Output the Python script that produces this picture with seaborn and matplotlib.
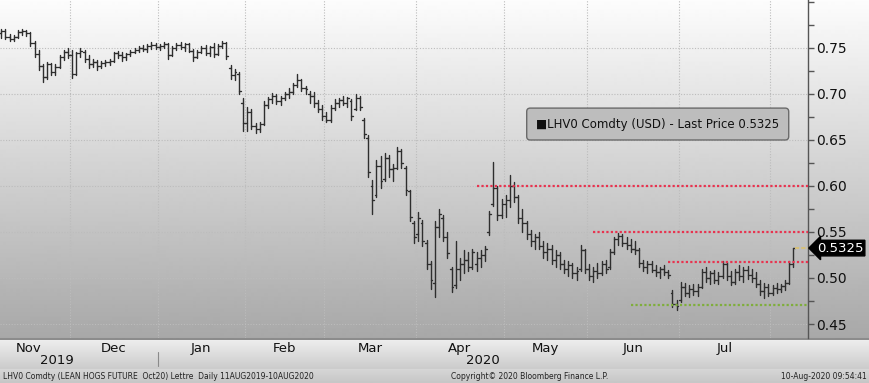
import numpy as np
import pandas as pd
import matplotlib
matplotlib.use('Agg')
import matplotlib.pyplot as plt
import matplotlib.transforms as mtransforms
import seaborn as sns

# trading calendar (CME lean hogs), chart window
HOLIDAYS = ['2019-11-28', '2019-12-25', '2020-01-01', '2020-01-20',
            '2020-02-17', '2020-04-10', '2020-05-25', '2020-07-03']
CAL_START = '2019-11-01'
FIRST_DAY = '2019-11-06'
LAST_DAY = '2020-08-10'

# daily OHLC, one row of numbers per month (USD / lb)
OPENS = [
    .766, .768, .762, .760, .762, .767, .768, .766, .755, .743, .730, .718, .732, .724, .729, .740, .745,
    .742, .722, .744, .746, .738, .732, .735, .730, .734, .735, .736, .744, .742, .740, .743, .746, .748, .750, .749, .752, .753,
    .751, .752, .754, .742, .750, .753, .751, .754, .747, .740, .746, .750, .744, .751, .743, .752, .755, .728, .720, .722, .690,
    .668, .680, .665, .662, .667, .688, .694, .698, .692, .696, .700, .702, .710, .715, .706, .700, .698, .690, .684,
    .676, .672, .685, .690, .693, .690, .692, .684, .695, .672, .652, .600, .590, .622, .608, .630, .618, .620, .638, .620, .594, .560,
    .548, .560, .538, .515, .495, .555, .565, .545, .510, .492, .510, .515, .520, .512, .515, .522, .525, .550, .580, .598, .568,
    .580, .585, .600, .588, .565, .560, .548, .540, .545, .535, .528, .532, .520, .525, .515, .510, .514, .505, .510, .530,
    .510, .502, .508, .505, .515, .512, .528, .542, .546, .538, .536, .532, .530, .516, .512, .515, .509, .506, .510, .506, .484, .472,
    .476, .490, .484, .488, .486, .490, .506, .500, .505, .498, .502, .515, .502, .496, .506, .502, .509, .503, .500, .494, .486, .490,
    .484, .489, .488, .491, .495, .515,
]
HIGHS = [
    .771, .770, .765, .764, .769, .770, .769, .767, .757, .748, .733, .735, .734, .732, .742, .748, .750,
    .748, .746, .750, .748, .742, .738, .737, .736, .737, .738, .746, .747, .745, .744, .748, .750, .752, .753, .754, .756, .755,
    .754, .756, .755, .752, .755, .756, .755, .755, .749, .748, .752, .753, .752, .755, .754, .757, .756, .731, .727, .724, .695,
    .686, .684, .668, .670, .692, .697, .701, .700, .698, .702, .706, .712, .722, .716, .709, .703, .702, .693, .688,
    .680, .688, .694, .696, .698, .697, .694, .700, .698, .674, .655, .606, .628, .632, .636, .634, .624, .642, .640, .622, .596, .562,
    .572, .563, .541, .518, .562, .575, .568, .550, .512, .540, .522, .530, .528, .532, .528, .530, .535, .573, .626, .600, .586,
    .590, .612, .604, .590, .575, .562, .552, .548, .550, .540, .538, .536, .530, .528, .520, .518, .516, .512, .536, .532,
    .515, .512, .516, .518, .520, .532, .545, .549, .548, .545, .542, .540, .533, .520, .518, .518, .514, .512, .514, .509, .487, .476,
    .496, .495, .492, .494, .493, .510, .512, .508, .509, .506, .518, .517, .508, .510, .514, .512, .513, .510, .506, .498, .495, .494,
    .492, .495, .494, .498, .518, .5325,
]
LOWS = [
    .761, .760, .758, .757, .761, .764, .763, .752, .740, .726, .713, .716, .720, .721, .728, .737, .739,
    .717, .720, .740, .735, .728, .729, .726, .728, .730, .731, .735, .739, .736, .737, .741, .744, .745, .747, .746, .749, .749,
    .748, .750, .738, .741, .748, .749, .747, .745, .736, .739, .744, .742, .741, .740, .742, .750, .738, .716, .715, .700, .660,
    .660, .662, .658, .659, .666, .685, .690, .689, .688, .693, .695, .700, .708, .703, .700, .690, .686, .680, .672,
    .669, .670, .683, .686, .688, .686, .672, .683, .682, .652, .610, .570, .588, .598, .605, .610, .605, .618, .620, .590, .562, .538,
    .540, .535, .510, .488, .479, .545, .540, .522, .485, .489, .498, .505, .508, .510, .508, .512, .518, .547, .578, .563, .565,
    .566, .577, .583, .560, .550, .542, .535, .532, .532, .522, .520, .515, .512, .510, .505, .502, .500, .498, .508, .505,
    .498, .496, .500, .503, .505, .510, .526, .536, .535, .532, .528, .526, .512, .508, .505, .506, .502, .500, .503, .500, .468, .465,
    .474, .480, .479, .482, .480, .489, .496, .494, .495, .494, .500, .498, .492, .494, .498, .496, .499, .496, .490, .482, .478, .480,
    .482, .484, .485, .487, .494, .512,
]
CLOSES = [
    .768, .762, .760, .762, .767, .768, .766, .755, .743, .730, .718, .732, .724, .729, .740, .745, .742,
    .722, .744, .747, .738, .732, .735, .730, .734, .735, .736, .744, .742, .740, .743, .746, .748, .750, .749, .752, .753, .751,
    .752, .754, .742, .750, .753, .751, .754, .747, .740, .746, .750, .744, .751, .743, .752, .755, .741, .720, .724, .703, .668,
    .680, .665, .662, .667, .688, .694, .698, .692, .696, .700, .702, .710, .715, .706, .705, .698, .690, .684, .676,
    .672, .685, .690, .693, .690, .695, .676, .695, .686, .656, .615, .585, .622, .605, .630, .618, .620, .638, .625, .596, .566, .545,
    .565, .540, .515, .498, .555, .570, .545, .527, .490, .510, .515, .520, .512, .528, .522, .525, .532, .570, .598, .568, .580,
    .585, .600, .588, .565, .560, .548, .540, .545, .535, .528, .532, .520, .525, .515, .510, .514, .505, .508, .530, .510,
    .502, .508, .505, .515, .510, .528, .542, .546, .538, .536, .532, .530, .516, .512, .515, .509, .506, .510, .506, .503, .472, .470,
    .490, .484, .488, .486, .490, .506, .500, .505, .498, .502, .515, .502, .496, .506, .502, .509, .503, .500, .494, .486, .490, .484,
    .489, .488, .491, .495, .515, .5325,
]

MONTH_LABELS = ['Nov', 'Dec', 'Jan', 'Feb', 'Mar', 'Apr', 'May', 'Jun', 'Jul']

# drawn trend levels: (price, start date, colour)
LEVELS = [0.60, 0.55, 0.517, 0.471]
LEVEL_STARTS = ['2020-04-22', '2020-06-02', '2020-06-26', '2020-06-15']
LEVEL_COLORS = ['#e8334f', '#e8334f', '#e8334f', '#7fae3c']

FOOTER_LEFT = 'LHV0 Comdty (LEAN HOGS FUTURE  Oct20) Lettre  Daily 11AUG2019-10AUG2020'
FOOTER_MID = 'Copyright\u00a9 2020 Bloomberg Finance L.P.'
FOOTER_RIGHT = '10-Aug-2020 09:54:41'

BAR_COLOR = '#2e2e2e'
GRID_COLOR = '#bcbcbc'
TICK = 0.42

sns.set_style('white')
plt.rcParams['font.family'] = ['DejaVu Sans']

# trading-day positions
cal = pd.bdate_range(CAL_START, LAST_DAY, freq='C', holidays=HOLIDAYS)
cal_pos = pd.Series(np.arange(len(cal)) - cal.get_loc(pd.Timestamp(FIRST_DAY)), index=cal)
dates = cal[cal >= pd.Timestamp(FIRST_DAY)]
df = pd.DataFrame({'date': dates, 'open': OPENS, 'high': HIGHS,
                   'low': LOWS, 'close': CLOSES})
df['x'] = cal_pos.loc[dates].values
n = len(df)

hl = pd.DataFrame({'unit': np.repeat(np.arange(n), 2),
                   'x': np.repeat(df.x.values, 2),
                   'y': np.column_stack([df.low, df.high]).ravel()})
op = pd.DataFrame({'unit': np.repeat(np.arange(n) + n, 2),
                   'x': np.column_stack([df.x - TICK, df.x]).ravel(),
                   'y': np.repeat(df.open.values, 2)})
cl = pd.DataFrame({'unit': np.repeat(np.arange(n) + 2 * n, 2),
                   'x': np.column_stack([df.x, df.x + TICK]).ravel(),
                   'y': np.repeat(df.close.values, 2)})
segs = pd.concat([hl, op, cl], ignore_index=True)

# month boundaries / centres
month_first = cal_pos.groupby([cal.year, cal.month]).min().values - 0.5
month_last = cal_pos.groupby([cal.year, cal.month]).max().values + 0.5
centres = ((month_first + month_last) / 2)[:len(MONTH_LABELS)]

W, H = 869, 383
fig = plt.figure(figsize=(W / 100, H / 100), dpi=100)

# background gradient (plot area, date band, footer band)
grad = np.concatenate([
    np.linspace(0.99, 0.66, 338),
    np.full(2, 0.55),
    np.linspace(0.93, 0.80, 29),
    np.linspace(0.84, 0.78, 14),
])
bg = fig.add_axes([0, 0, 1, 1], zorder=0)
bg.imshow(grad[:, None], aspect='auto', cmap='gray', vmin=0, vmax=1,
          extent=[0, 1, 0, 1], interpolation='bilinear')
bg.axis('off')

ax = fig.add_axes([0, 1 - 338 / H, 808 / W, 338 / H], zorder=1)
ax.patch.set_alpha(0)

x_right = 193.5
ax.set_xlim(-0.3, x_right)
ax.set_ylim(0.4348, 0.802)

sns.lineplot(data=segs, x='x', y='y', units='unit', estimator=None,
             sort=False, color=BAR_COLOR, lw=1.0, ax=ax)

for lvl, start, col in zip(LEVELS, LEVEL_STARTS, LEVEL_COLORS):
    x0 = cal_pos.loc[pd.Timestamp(start)]
    ax.hlines(lvl, x0, x_right, colors=col, lw=1.6, linestyles=(0, (1, 1)), zorder=3)

last = df.close.iloc[-1]
ax.hlines(last, df.x.iloc[-1] + TICK, x_right, colors='#d6c07a', lw=1.5,
          linestyles=(0, (2, 1)), zorder=3)

# axes styling
for s in ['left', 'top', 'bottom']:
    ax.spines[s].set_visible(False)
ax.spines['right'].set_color('#555555')
ax.spines['right'].set_linewidth(1)

ax.yaxis.tick_right()
yt = np.round(np.arange(0.45, 0.751, 0.05), 2)
ax.set_yticks(yt)
ax.set_yticklabels([f'{v:.2f}' for v in yt])
ax.set_yticks([0.475, 0.525, 0.575, 0.625, 0.675, 0.725, 0.775, 0.80], minor=True)
ax.tick_params(axis='y', which='both', direction='out', length=4, width=1,
               color='#555555', labelsize=10, labelcolor='#111111', pad=2)

ax.set_xticks(centres)
ax.set_xticklabels(MONTH_LABELS)
ax.set_xticks(month_first[1:], minor=True)
ax.tick_params(axis='x', which='major', length=0, labelsize=9.5,
               labelcolor='#111111', pad=3)
ax.tick_params(axis='x', which='minor', length=3, color='#7a7a7a', direction='out')
ax.set_xlabel('')
ax.set_ylabel('')

ax.grid(axis='y', which='major', color=GRID_COLOR, ls=(0, (1, 1.5)), lw=0.8)
ax.grid(axis='x', which='minor', color=GRID_COLOR, ls=(0, (1, 1.5)), lw=0.8)
ax.set_axisbelow(True)

# year row
ax.text(0.0705, -0.068, '2019', transform=ax.transAxes, ha='center', va='center',
        fontsize=9.5, color='#111111')
ax.text(0.598, -0.068, '2020', transform=ax.transAxes, ha='center', va='center',
        fontsize=9.5, color='#111111')
jan = month_first[2]
ax.axvline(jan, ymin=-0.082, ymax=-0.04, color='#8a8a8a', lw=0.8, clip_on=False)

# legend box
ax.text(0.814, 0.633, f'\u25a0LHV0 Comdty (USD) - Last Price {last:.4f}',
        transform=ax.transAxes, ha='center', va='center', fontsize=8.5,
        color='#111111', zorder=5,
        bbox=dict(boxstyle='round,pad=0.8,rounding_size=0.3', fc='#bdbdbd',
                  ec='#6a6a6a', lw=1))

# last price tag
trans = mtransforms.blended_transform_factory(ax.transAxes, ax.transData)
ax.annotate(f'{last:.4f}', xy=(1, last), xycoords=trans,
            xytext=(6.5, 0), textcoords='offset points', ha='left', va='center',
            color='white', fontsize=9.5, annotation_clip=False, zorder=6,
            bbox=dict(boxstyle='larrow,pad=0.1', fc='black', ec='black'))

# footer
fig.text(0.003, 0.016, FOOTER_LEFT, fontsize=5.5, va='center', ha='left', color='#222222')
fig.text(0.61, 0.016, FOOTER_MID, fontsize=5.5, va='center', ha='center', color='#222222')
fig.text(0.997, 0.016, FOOTER_RIGHT, fontsize=5.5, va='center', ha='right', color='#222222')

fig.savefig('out.png', dpi=100)
